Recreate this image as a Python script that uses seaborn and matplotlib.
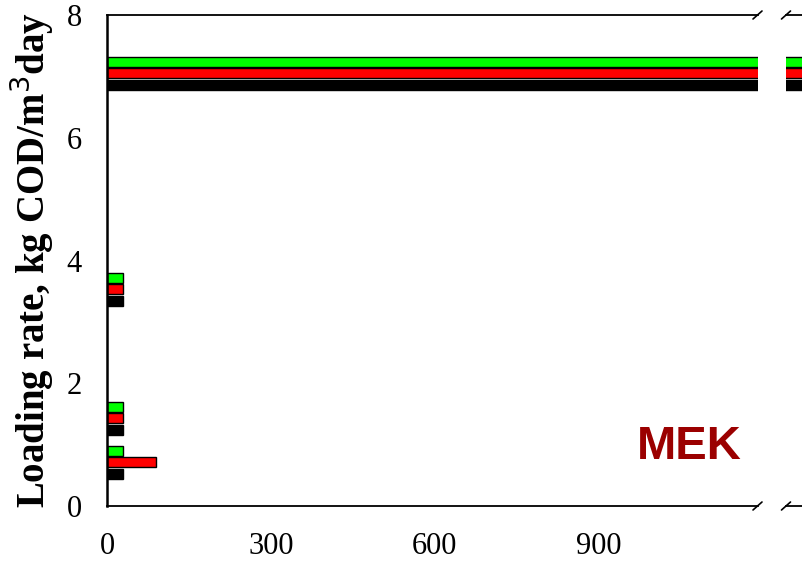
import matplotlib
matplotlib.use("Agg")
import matplotlib.pyplot as plt
import pandas as pd
import seaborn as sns

# Organic loading rate steps (kg COD/m3 day) and how long each reactor ran at them (days)
loading_rates = [0.71, 1.43, 3.53, 7.05]
reactors = ["R1", "R2", "R3"]
days_r1 = [30, 30, 30, 1500]
days_r2 = [90, 30, 30, 1500]
days_r3 = [30, 30, 30, 1500]
x_ticks = [0, 300, 600, 900]
y_ticks = [0, 2, 4, 6, 8]
colors = ["#000000", "#ff0000", "#00ff00"]

rows = []
for name, days in zip(reactors, [days_r1, days_r2, days_r3]):
    for rate, d in zip(loading_rates, days):
        rows.append({"reactor": name, "rate": rate, "days": d})
df = pd.DataFrame(rows)

sns.set_theme(style="white")
plt.rcParams["font.family"] = ["Liberation Serif", "DejaVu Serif"]

W, H = 802, 562
fig = plt.figure(figsize=(W / 100, H / 100), dpi=100)

x_left, x_break, x_right0, y_bot, y_top = 107, 757.5, 786, 506, 15
ax = fig.add_axes([x_left / W, (H - y_bot) / H, (x_break - x_left) / W, (y_bot - y_top) / H])
ax2 = fig.add_axes([x_right0 / W, (H - y_bot) / H, 60 / W, (y_bot - y_top) / H])

left_max = 1191
px_per_day = (x_break - x_left) / left_max
right_start = 1260

for a in (ax, ax2):
    sns.barplot(data=df, x="days", y="rate", hue="reactor", hue_order=reactors,
                palette=colors, orient="h", native_scale=True, dodge=True,
                width=0.77, gap=0.12, edgecolor="black", linewidth=1.0,
                saturation=1, legend=False, ax=a)
    a.set_ylim(0, 8)
    a.set_xlabel("")
    a.set_ylabel("")
    for s in a.spines.values():
        s.set_color("black")
    a.spines["right"].set_visible(False)

ax.set_xlim(0, left_max)
ax.set_xticks(x_ticks)
ax.set_yticks(y_ticks)
ax.tick_params(axis="both", which="major", direction="out", length=7, width=1.3,
               color="black", labelsize=22, labelcolor="black")
ax.tick_params(axis="x", pad=12)
ax.tick_params(axis="y", pad=11)
ax.spines["left"].set_linewidth(1.8)
ax.spines["bottom"].set_linewidth(1.3)
ax.spines["top"].set_linewidth(1.3)

ax2.set_xlim(right_start, right_start + 60 / px_per_day)
ax2.set_xticks([])
ax2.set_yticks([])
ax2.spines["left"].set_visible(False)
ax2.spines["bottom"].set_linewidth(1.3)
ax2.spines["top"].set_linewidth(1.3)

ax.set_ylabel("Loading rate, kg COD/m$^3$day", fontsize=28, fontweight="bold",
              color="black", labelpad=8)

ax.text(0.895, 0.12, "MEK", transform=ax.transAxes, fontsize=34, fontweight="bold",
        family="Liberation Sans", color="#9b0000", ha="center", va="center")

# diagonal break marks on both sides of the axis gap
def break_mark(xc, yc):
    fig.add_artist(plt.Line2D([(xc - 4.5) / W, (xc + 4.5) / W],
                              [(H - yc - 4) / H, (H - yc + 4) / H],
                              color="black", lw=1.2, transform=fig.transFigure))

for xc in (x_break, x_right0):
    for yc in (y_top, y_bot):
        break_mark(xc, yc)

fig.savefig("out.png", dpi=100)
